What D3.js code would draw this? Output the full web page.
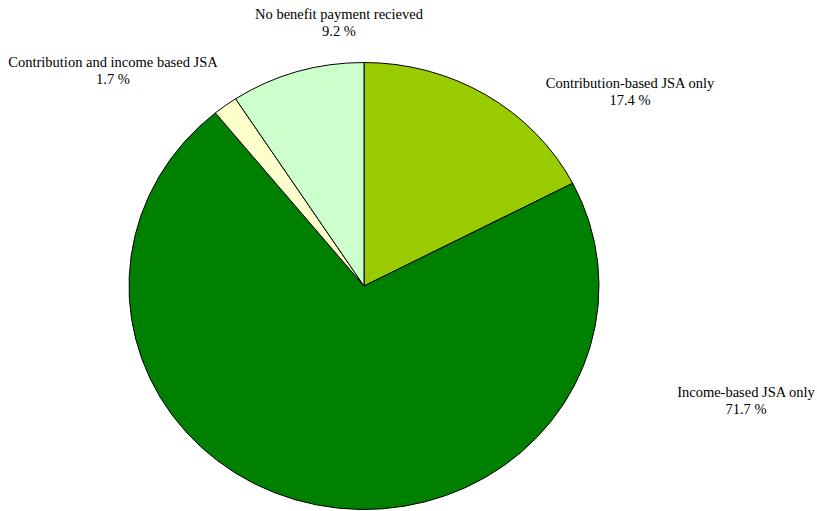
<!DOCTYPE html>
<html>
<head>
<meta charset="utf-8">
<script src="https://cdn.jsdelivr.net/npm/d3@7"></script>
<style>
  body { margin: 0; background: #fff; }
  svg { display: block; }
  .label { font-family: "Liberation Serif", "Times New Roman", serif; font-size: 14.5px; fill: #000; }
</style>
</head>
<body>
<svg id="pie-chart" width="817" height="511"></svg>
<script>
var categories = ["Contribution-based JSA only",
                  "Income-based JSA only",
                  "Contribution and income based JSA",
                  "No benefit payment recieved"];
var percents = [17.4, 71.7, 1.7, 9.2];
var sliceColors = ["#99cc00", "#008000", "#ffffcc", "#ccffcc"];

// label anchors (center x, first baseline)
var labelAnchors = [[630, 88], [746, 397], [113, 67], [339, 19]];

function drawPieChart() {
    var svg = d3.select("#pie-chart");
    svg.selectAll("*").remove();

    var cx = 364, cy = 286,
        rx = 235, ry = 223.5;

    var pie = d3.pie().sort(null).value(function(d) { return d; });
    var arc = d3.arc().innerRadius(0).outerRadius(ry);

    var g = svg.append("g")
        .attr("transform", "translate(" + cx + "," + cy + ") scale(" + (rx / ry) + ",1)");

    g.selectAll("path")
        .data(pie(percents))
        .enter().append("path")
        .attr("d", arc)
        .attr("fill", function(d, i) { return sliceColors[i]; })
        .attr("stroke", "#000")
        .attr("stroke-width", 1)
        .attr("vector-effect", "non-scaling-stroke");

    var labels = svg.selectAll(".label")
        .data(categories)
        .enter().append("text")
        .attr("class", "label")
        .attr("text-anchor", "middle")
        .attr("x", function(d, i) { return labelAnchors[i][0]; })
        .attr("y", function(d, i) { return labelAnchors[i][1]; });

    labels.append("tspan")
        .attr("x", function(d, i) { return labelAnchors[i][0]; })
        .text(function(d) { return d; });

    labels.append("tspan")
        .attr("x", function(d, i) { return labelAnchors[i][0]; })
        .attr("dy", 17)
        .text(function(d, i) { return d3.format(".1f")(percents[i]) + " %"; });
}

drawPieChart();
</script>
</body>
</html>
